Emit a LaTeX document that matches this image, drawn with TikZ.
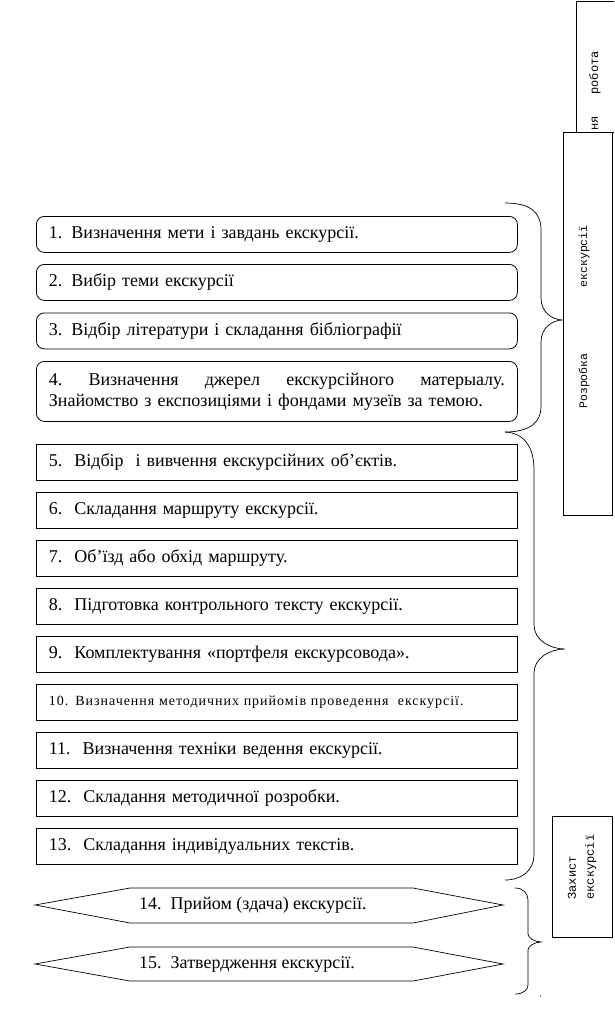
\documentclass[tikz,border=0pt]{standalone}
\usepackage{fontspec}
\setmainfont{Liberation Serif}
\newfontfamily\monof{Liberation Mono}
\newfontfamily\spacedf[LetterSpace=7]{Liberation Serif}
\begin{document}
\begin{tikzpicture}[x=1pt,y=-1pt,
  txt/.style={font=\fontsize{18}{21}\selectfont},
  rbox/.style={draw, line width=0.8pt, rounded corners=8pt, anchor=north west, minimum height=36pt,
    text width=456pt, inner xsep=12.5pt, inner ysep=0pt, align=left, txt},
  sbox/.style={draw, line width=0.8pt, anchor=north west, minimum height=36pt,
    text width=456pt, inner xsep=12.5pt, inner ysep=0pt, align=left, txt},
  side/.style={draw, line width=0.7pt},
  vtext/.style={rotate=90, inner sep=0pt, font=\monof\fontsize{11.5}{18}\selectfont},
  brace/.style={draw, line width=0.7pt},
  hexl/.style={txt, anchor=west, inner sep=0pt},
  hex/.style={draw, line width=0.7pt}
]
\useasboundingbox (0,0) rectangle (614,1010);
\fill[white] (0,0) rectangle (614,1010);
\clip (0,0) rectangle (614,1010);

% right side boxes
\draw[side] (620,1) -- (576,1) -- (576,132);
\node[vtext, font=\monof\fontsize{12}{14}\selectfont] (work) at (595,91) {ня\hspace{22pt}робота};
\draw[side] (620,132) -- (563,132) -- (563,515) -- (612,515) -- (612,132);
\node[vtext] (dev) at (584,317) {Розробка\hspace{66pt}екскурсії};
\node[draw, line width=0.7pt, minimum width=60pt, minimum height=121pt] (defbox) at (582,876.5) {};
\node[vtext, align=left, font=\monof\fontsize{12}{18}\selectfont] (def) at (582,867) {Захист\\екскурсії};

% boxes
\node[rbox] (b1) at (36,216) {1. Визначення мети і завдань екскурсії.};
\node[rbox] (b2) at (36,264) {2. Вибір теми екскурсії};
\node[rbox] (b3) at (36,312.5) {3. Відбір літератури і складання бібліографії};
\node[rbox, minimum height=60pt] (b4) at (36,361) {\hbox to 456pt{4.\hfill Визначення\hfill джерел\hfill екскурсійного\hfill матерыалу.}\\Знайомство з експозиціями і фондами музеїв за темою.};

\node[sbox] (b5) at (36,444) {5.~~Відбір~~і вивчення екскурсійних об’єктів.};
\node[sbox] (b6) at (36,492) {6.~~Складання маршруту екскурсії.};
\node[sbox] (b7) at (36,540) {7.~~Об’їзд або обхід маршруту.};
\node[sbox] (b8) at (36,588) {8.~~Підготовка контрольного тексту екскурсії.};
\node[sbox] (b9) at (36,636) {9.~~Комплектування «портфеля екскурсовода».};
\node[sbox, font=\spacedf\fontsize{14}{16}\selectfont] (b10) at (36,684) {10. Визначення методичних прийомів проведення~~екскурсії.};
\node[sbox] (b11) at (36,732) {11.~~Визначення техніки ведення екскурсії.};
\node[sbox] (b12) at (36,780) {12.~~Складання методичної розробки.};
\node[sbox] (b13) at (36,828) {13.~~Складання індивідуальних текстів.};

% hexagons
\draw[hex] (35,905) -- (130,888) -- (413,888) -- (503,905) -- (413,923) -- (130,923) -- cycle;
\node[hexl] (b14) at (139,905) {14.~~Прийом (здача) екскурсії.};
\draw[hex] (35,964) -- (130,947) -- (413,947) -- (503,964) -- (413,981) -- (130,981) -- cycle;
\node[hexl] (b15) at (139,964) {15.~~Затвердження екскурсії.};

% braces
\coordinate (t1) at (505,203);
\coordinate (m1) at (563,320);
\coordinate (e1) at (505,432);
\draw[brace] (t1) .. controls (530,203) and (541,212) .. (541,230) -- (541,298)
  .. controls (541,312) and (552,320) .. (m1)
  .. controls (552,320) and (541,328) .. (541,342) -- (541,407)
  .. controls (541,422) and (530,432) .. (e1);
\coordinate (m2) at (565,649);
\coordinate (e2) at (505,880);
\draw[brace] (e1) .. controls (525,433) and (534,448) .. (534,470) -- (534,625)
  .. controls (534,640) and (550,649) .. (m2)
  .. controls (550,649) and (534,658) .. (534,673) -- (534,855)
  .. controls (534,870) and (522,880) .. (e2);
\coordinate (t3) at (515,888);
\coordinate (m3) at (541,942);
\coordinate (e3) at (515,994);
\draw[brace] (t3) .. controls (523,888) and (528,893) .. (528,900) -- (528,934)
  .. controls (528,938) and (535,942) .. (m3)
  .. controls (535,942) and (528,946) .. (528,950) -- (528,985)
  .. controls (528,990) and (523,994) .. (e3);
\fill (540.5,996) circle (0.6pt);
\end{tikzpicture}
\end{document}
